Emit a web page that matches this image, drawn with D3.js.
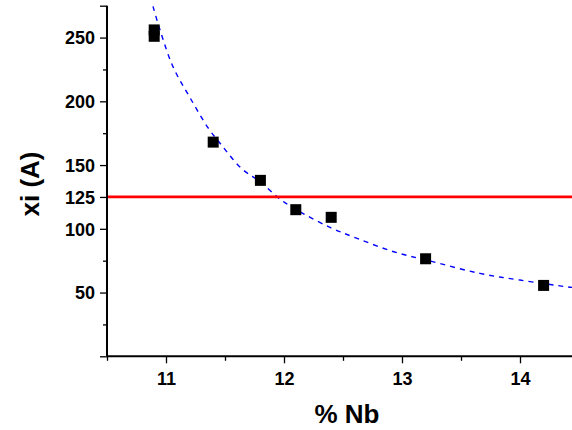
<!DOCTYPE html>
<html>
<head>
<meta charset="utf-8">
<script src="https://cdn.jsdelivr.net/npm/d3@7"></script>
<style>
  html, body { margin: 0; padding: 0; background: #fff; }
  svg { display: block; font-family: Arial, "Liberation Sans", sans-serif; }
</style>
</head>
<body>
<svg id="chart" width="572" height="430"></svg>
<script>
// ---- data ----
const nb = [10.9, 10.9, 11.4, 11.8, 12.1, 12.4, 13.2, 14.2];
const xi = [256, 251, 168, 138, 115, 109, 76.5, 55.6];

// fitted curve
const fitNb = [10.89, 10.95, 11.06, 11.20, 11.36, 11.46, 11.64, 11.80, 11.97, 12.11, 12.39, 12.62, 12.93, 13.24, 13.66, 14.00, 14.40, 14.50];
const fitXi = [274.5, 255.7, 227.0, 203.4, 178.7, 166.9, 147.3, 136.8, 123.0, 114.7, 101.1, 92.5, 82.0, 74.7, 65.0, 59.8, 54.5, 53.6];

const threshold = 125;

const xMajorTicks = [11, 12, 13, 14];
const xMinorTicks = [10.5, 11.5, 12.5, 13.5];
const yMajorTicks = [0, 50, 100, 125, 150, 200, 250, 275];
const yTickLabels = [50, 100, 125, 150, 200, 250];
const yMinorTicks = [25, 75, 175, 225];

const xTitle = "% Nb";
const yTitle = "xi (A)";

// ---- layout ----
const svg = d3.select("#chart");
const x = d3.scaleLinear().domain([10.5, 14.5]).range([107, 579]);
const y = d3.scaleLinear().domain([0, 275]).range([356.3, 5.7]);

// fit curve
const fitData = fitNb.map((d, i) => [d, fitXi[i]]);
svg.append("path")
  .datum(fitData)
  .attr("fill", "none")
  .attr("stroke", "#0000ff")
  .attr("stroke-width", 1.4)
  .attr("stroke-dasharray", "5,5")
  .attr("d", d3.line().x(d => x(d[0])).y(d => y(d[1])).curve(d3.curveCatmullRom));

// threshold line
svg.append("line")
  .attr("x1", x(10.5)).attr("x2", 572)
  .attr("y1", y(threshold)).attr("y2", y(threshold))
  .attr("stroke", "#ff0000").attr("stroke-width", 2.8);

// points
const pts = nb.map((d, i) => [d, xi[i]]);
svg.append("g").selectAll("rect").data(pts).join("rect")
  .attr("x", d => x(d[0]) - 5.5)
  .attr("y", d => y(d[1]) - 5.5)
  .attr("width", 11).attr("height", 11)
  .attr("fill", "#000");

// axes
const axisColor = "#000";
const xAxis = svg.append("g").attr("transform", `translate(0,${y(0)})`);
xAxis.call(d3.axisBottom(x).tickValues(xMajorTicks).tickSize(7).tickFormat(d3.format("d")));
const xMinor = svg.append("g").attr("transform", `translate(0,${y(0)})`);
xMinor.call(d3.axisBottom(x).tickValues(xMinorTicks).tickSize(4.5).tickFormat(""));

const yAxis = svg.append("g").attr("transform", `translate(${x(10.5)},0)`);
yAxis.call(d3.axisLeft(y).tickValues(yMajorTicks).tickSize(7)
  .tickFormat(d => yTickLabels.includes(d) ? d : ""));
const yMinor = svg.append("g").attr("transform", `translate(${x(10.5)},0)`);
yMinor.call(d3.axisLeft(y).tickValues(yMinorTicks).tickSize(4).tickFormat(""));

[xAxis, xMinor, yAxis, yMinor].forEach(g => {
  g.selectAll(".domain").remove();
  g.selectAll(".tick line").attr("stroke", axisColor).attr("stroke-width", 1.3);
  g.selectAll("text").attr("fill", "#000")
    .style("font-family", "Arial, 'Liberation Sans', sans-serif")
    .style("font-weight", "bold").style("font-size", "18px");
});
xAxis.selectAll("text").attr("dy", null).attr("y", 29);
yAxis.selectAll("text").attr("x", -12).attr("dy", "0.35em");

// axis lines
svg.append("line").attr("x1", x(10.5)).attr("x2", 572).attr("y1", y(0)).attr("y2", y(0))
  .attr("stroke", axisColor).attr("stroke-width", 2);
svg.append("line").attr("x1", x(10.5)).attr("x2", x(10.5)).attr("y1", y(0)).attr("y2", y(275))
  .attr("stroke", axisColor).attr("stroke-width", 2);

// titles
svg.append("text")
  .attr("x", 347).attr("y", 423)
  .attr("text-anchor", "middle")
  .style("font-weight", "bold").style("font-size", "26px")
  .text(xTitle);
svg.append("text")
  .attr("transform", "translate(39,184) rotate(-90)")
  .attr("text-anchor", "middle")
  .style("font-weight", "bold").style("font-size", "26px")
  .text(yTitle);
</script>
</body>
</html>
